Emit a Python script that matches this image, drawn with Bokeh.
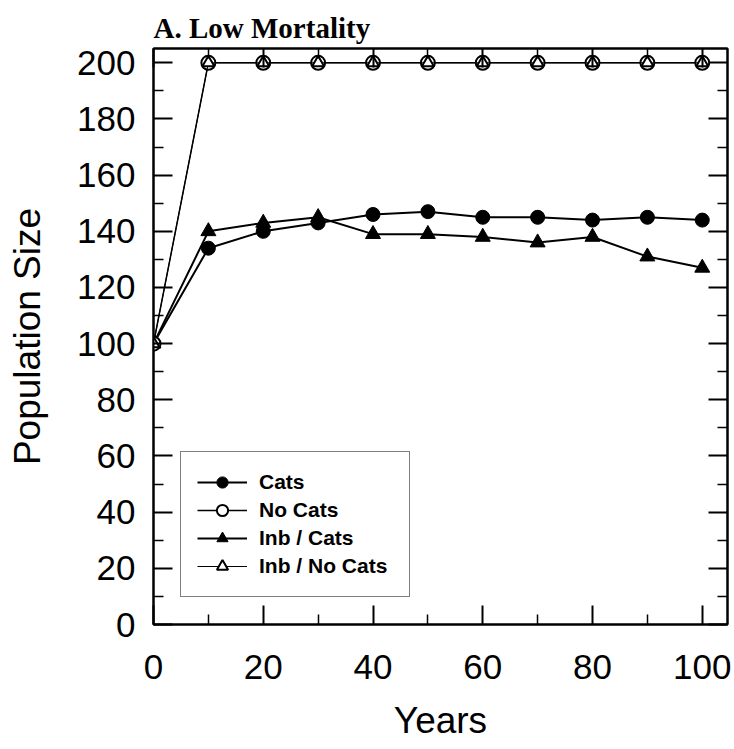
from bokeh.plotting import figure
from bokeh.models import Range1d, LinearAxis, FixedTicker, Legend, LegendItem
from bokeh.embed import file_html
from bokeh.resources import INLINE

# Simulated population size over 100 years under low mortality
years = [0, 10, 20, 30, 40, 50, 60, 70, 80, 90, 100]
cats = [100, 134, 140, 143, 146, 147, 145, 145, 144, 145, 144]
no_cats = [100, 200, 200, 200, 200, 200, 200, 200, 200, 200, 200]
inb_cats = [100, 140, 143, 145, 139, 139, 138, 136, 138, 131, 127]
inb_no_cats = [100, 200, 200, 200, 200, 200, 200, 200, 200, 200, 200]

series_names = ["Cats", "No Cats", "Inb / Cats", "Inb / No Cats"]

x_major = [0, 20, 40, 60, 80, 100]
x_minor = [10, 30, 50, 70, 90]
y_major = [0, 20, 40, 60, 80, 100, 120, 140, 160, 180, 200]
y_minor = [10, 30, 50, 70, 90, 110, 130, 150, 170, 190]

p = figure(
    width=734, height=749,
    x_range=Range1d(0, 104.6), y_range=Range1d(0, 205.1),
    output_backend="svg", toolbar_location=None,
    min_border_left=153, min_border_right=7,
    min_border_top=48, min_border_bottom=125,
    x_axis_label="Years", y_axis_label="Population Size",
    title="A. Low Mortality",
)
p.grid.visible = False
p.outline_line_color = "black"
p.outline_line_width = 2
p.background_fill_color = "white"
p.border_fill_color = "white"

p.title.text_font = "Liberation Serif"
p.title.text_font_style = "bold"
p.title.text_font_size = "29px"
p.title.align = "left"
p.title.text_color = "black"


def style_axis(ax, major, minor):
    ax.ticker = FixedTicker(ticks=major, minor_ticks=minor)
    ax.major_tick_in = 19
    ax.major_tick_out = 0
    ax.minor_tick_in = 10
    ax.minor_tick_out = 0
    ax.major_tick_line_width = 2
    ax.minor_tick_line_width = 1.5
    ax.major_tick_line_color = "black"
    ax.minor_tick_line_color = "black"
    ax.axis_line_width = 2
    ax.axis_line_color = "black"
    ax.major_label_text_font = "Liberation Sans"
    ax.major_label_text_font_size = "35px"
    ax.major_label_text_color = "black"
    ax.axis_label_text_font = "Liberation Sans"
    ax.axis_label_text_font_style = "normal"
    ax.axis_label_text_font_size = "37px"
    ax.axis_label_text_color = "black"


style_axis(p.xaxis[0], x_major, x_minor)
style_axis(p.yaxis[0], y_major, y_minor)
p.xaxis[0].major_label_standoff = 30
p.xaxis[0].axis_label_standoff = 18
p.yaxis[0].major_label_standoff = 18
p.yaxis[0].axis_label_standoff = 26

# Mirror ticks on the top and right edges, without labels
top = LinearAxis()
style_axis(top, x_major, x_minor)
top.major_label_overrides = {v: "" for v in x_major}
top.major_label_text_font_size = "1px"
top.major_label_standoff = 0
p.add_layout(top, "above")

right = LinearAxis()
style_axis(right, y_major, y_minor)
right.major_label_overrides = {v: "" for v in y_major}
right.major_label_text_font_size = "1px"
right.major_label_standoff = 0
p.add_layout(right, "right")

# Series
l_cats = p.line(years, cats, line_color="black", line_width=2)
s_cats = p.scatter(years, cats, marker="circle", size=14,
                   fill_color="black", line_color="black")

l_inb = p.line(years, inb_cats, line_color="black", line_width=2)
s_inb = p.scatter(years, inb_cats, marker="triangle", size=15,
                  fill_color="black", line_color="black")

l_nc = p.line(years, no_cats, line_color="black", line_width=1.5)
s_nc = p.scatter(years, no_cats, marker="circle", size=14,
                 fill_color="white", line_color="black", line_width=2)

l_inc = p.line(years, inb_no_cats, line_color="black", line_width=1)
s_inc = p.scatter(years, inb_no_cats, marker="triangle", size=12,
                  fill_color="white", line_color="black", line_width=2)

legend = Legend(
    items=[
        LegendItem(label=series_names[0], renderers=[l_cats, s_cats]),
        LegendItem(label=series_names[1], renderers=[l_nc, s_nc]),
        LegendItem(label=series_names[2], renderers=[l_inb, s_inb]),
        LegendItem(label=series_names[3], renderers=[l_inc, s_inc]),
    ],
    location=(27, 27),
    margin=0,
    padding=16,
    spacing=0,
    glyph_width=50,
    glyph_height=28,
    label_height=28,
    label_width=134,
    label_standoff=12,
    label_text_font="Liberation Sans",
    label_text_font_style="bold",
    label_text_font_size="21px",
    label_text_color="black",
    border_line_color="black",
    border_line_width=1.5,
    background_fill_color="white",
    background_fill_alpha=1.0,
)
p.add_layout(legend)

open("out.html", "w").write(file_html(p, INLINE))
